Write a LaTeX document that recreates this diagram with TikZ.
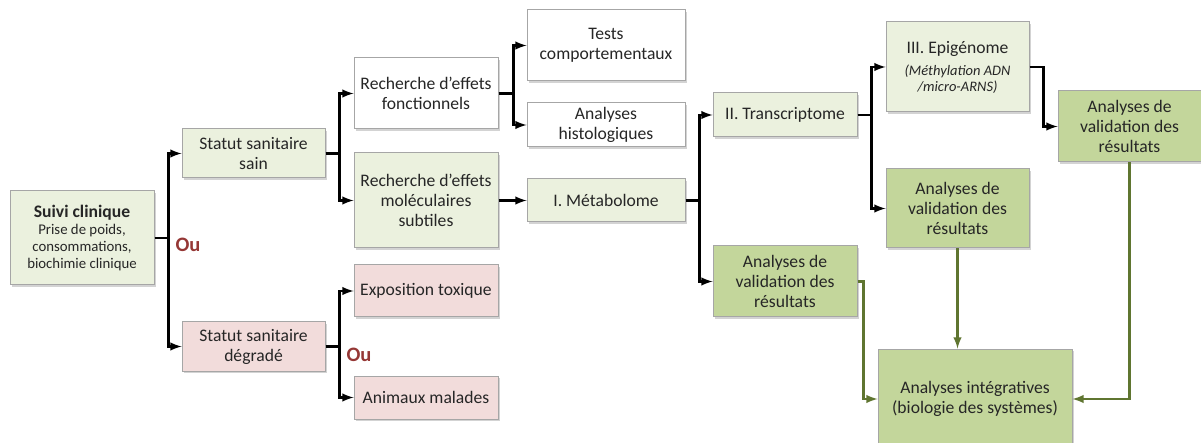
\documentclass[tikz,border=0pt]{standalone}
\usepackage{fontspec}
\setmainfont{Carlito}
\usetikzlibrary{shadows}
\definecolor{vertpale}{HTML}{EBF1DE}
\definecolor{vertmoyen}{HTML}{C3D69B}
\definecolor{rosepale}{HTML}{F2DCDB}
\definecolor{vertfonce}{HTML}{5F7530}
\definecolor{rougeou}{HTML}{953735}
\definecolor{bordgris}{HTML}{A6A6A6}
\definecolor{texte}{HTML}{262626}
\tikzstyle{box} = [rectangle, draw=bordgris, line width=1pt, align=center, inner sep=2pt, text=texte, font=\fontsize{17.6}{20}\selectfont, drop shadow={shadow xshift=2pt, shadow yshift=-2pt, opacity=0.35}]
\tikzstyle{sain} = [box, fill=vertpale]
\tikzstyle{valid} = [box, fill=vertmoyen]
\tikzstyle{degrade} = [box, fill=rosepale]
\tikzstyle{blanc} = [box, fill=white]
\tikzstyle{lien} = [->, line width=2.8pt]
\tikzstyle{lienvert} = [->, line width=2.8pt, draw=vertfonce]
\tikzstyle{ou} = [text=rougeou, font=\fontsize{20.5}{22}\selectfont\bfseries]

\begin{document}
\begin{tikzpicture}[x=1pt, y=-1pt, >=latex]
        \useasboundingbox (0,0) rectangle (1201,443);

        % colonne de gauche
        \node[sain, minimum width=144, minimum height=94] (suivi) at (82,238)
            {{\fontsize{17.6}{19}\selectfont\bfseries Suivi clinique}\\[-3pt]{\fontsize{14.8}{15.5}\selectfont Prise de poids,}\\[-3pt]{\fontsize{14.8}{15.5}\selectfont consommations,}\\[-3pt]{\fontsize{14.8}{15.5}\selectfont biochimie clinique}};
        \node[sain, minimum width=143, minimum height=49] (sain) at (253.5,153.5) {Statut sanitaire\\sain};
        \node[degrade, minimum width=143, minimum height=49] (degrade) at (253.5,346.5) {Statut sanitaire\\dégradé};
        \node[ou] (ou1) at (188,245) {Ou};

        % recherches
        \node[blanc, minimum width=144, minimum height=71] (fonct) at (426,93.5) {Recherche d'effets\\fonctionnels};
        \node[sain, minimum width=144, minimum height=95] (molec) at (426,200.5) {Recherche d'effets\\moléculaires\\subtiles};
        \node[degrade, minimum width=144, minimum height=52] (expo) at (426,291) {Exposition toxique};
        \node[degrade, minimum width=144, minimum height=43] (animaux) at (426,397.5) {Animaux malades};
        \node[ou] (ou2) at (359,355) {Ou};

        % analyses
        \node[blanc, minimum width=158, minimum height=71] (tests) at (606,45.5) {Tests\\comportementaux};
        \node[blanc, minimum width=158, minimum height=44] (histo) at (606,125) {Analyses\\histologiques};
        \node[sain, minimum width=158, minimum height=43] (metab) at (606,200.5) {I. Métabolome};
        \node[sain, minimum width=144, minimum height=44] (transcr) at (785,115) {II. Transcriptome};
        \node[valid, minimum width=144, minimum height=71] (validA) at (785,281.5) {Analyses de\\validation des\\résultats};
        \node[sain, minimum width=143, minimum height=90] (epig) at (957.5,67)
            {III. Epigénome\\[2pt]{\fontsize{14.5}{16}\selectfont\itshape (Méthylation ADN}\\[-4pt]{\fontsize{14.5}{16}\selectfont\itshape /micro-ARNS)}};
        \node[valid, minimum width=143, minimum height=79] (validB) at (957.5,208.5) {Analyses de\\validation des\\résultats};
        \node[valid, minimum width=143, minimum height=71] (validC) at (1129.5,126.5) {Analyses de\\validation des\\résultats};
        \node[valid, minimum width=194, minimum height=100] (integ) at (975,399) {Analyses intégratives\\(biologie des systèmes)};

        % liens
        \draw[lien] (suivi.east) -- ++(14,0) |- (sain.west);
        \draw[lien] (suivi.east) -- ++(14,0) |- (degrade.west);
        \draw[lien] (sain.east) -- ++(14,0) |- (fonct.west);
        \draw[lien] (sain.east) -- ++(14,0) |- (molec.west);
        \draw[lien] (degrade.east) -- ++(14,0) |- (expo.west);
        \draw[lien] (degrade.east) -- ++(14,0) |- (animaux.west);
        \draw[lien] (fonct.east) -- ++(15,0) |- (tests.west);
        \draw[lien] (fonct.east) -- ++(15,0) |- (histo.west);
        \draw[lien] (molec) -- (metab);
        \draw[lien] (metab.east) -- ++(14,0) |- (transcr.west);
        \draw[lien] (metab.east) -- ++(14,0) |- (validA.west);
        \draw[lien] (transcr.east) -- ++(14,0) |- (epig.west);
        \draw[lien] (transcr.east) -- ++(14,0) |- (validB.west);
        \draw[lien] (epig.east) -- ++(14,0) |- (validC.west);

        \draw[lienvert] (validA.east) -- ++(6,0) |- (integ.west);
        \draw[lienvert] (validB.south) -- (validB.south |- integ.north);
        \draw[lienvert] (validC.south) |- (integ.east);
    \end{tikzpicture}
\end{document}
